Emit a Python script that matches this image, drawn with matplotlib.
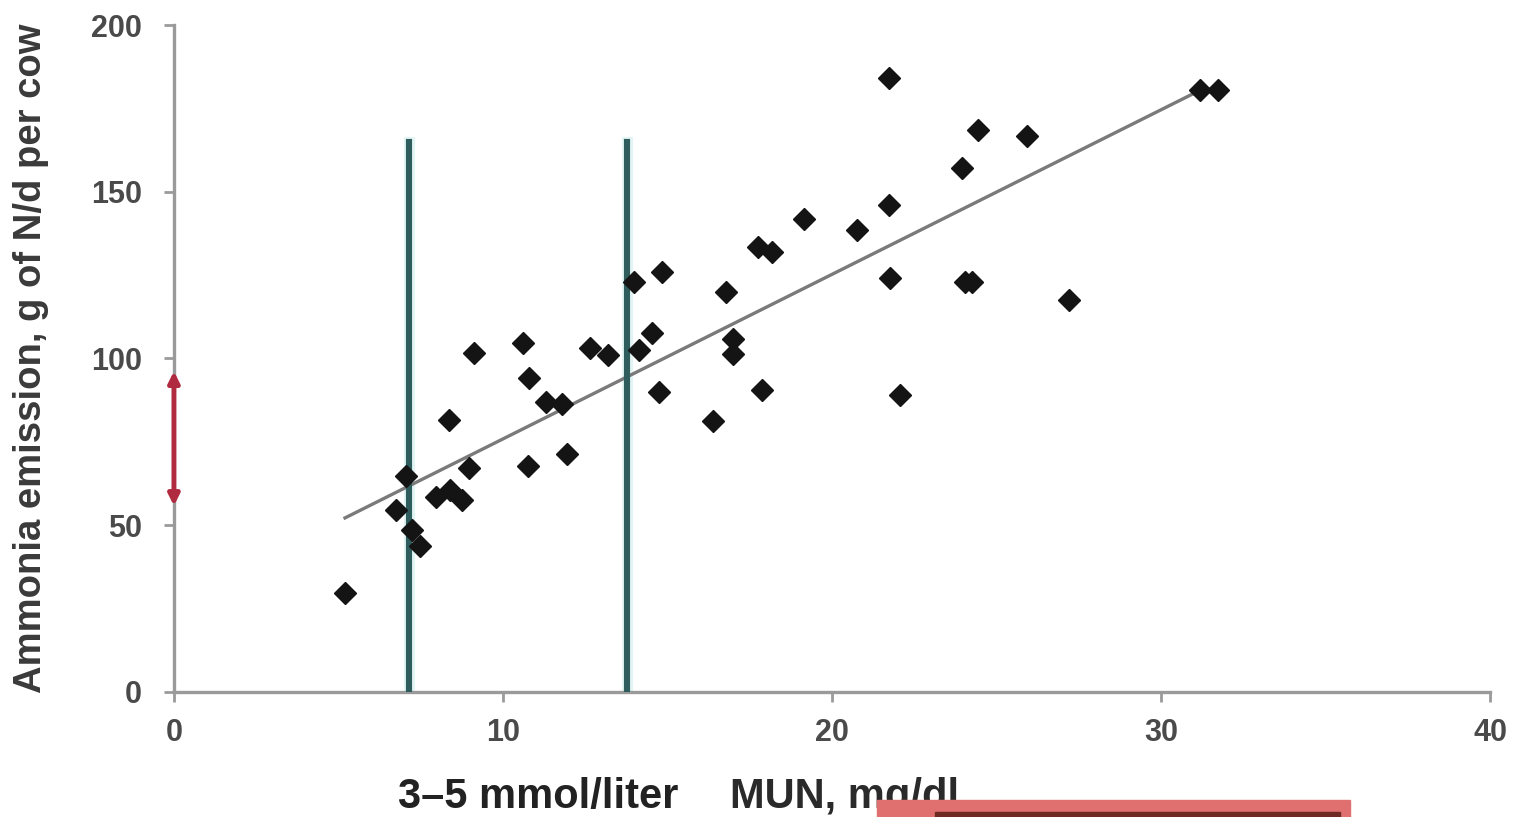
import matplotlib.pyplot as plt
from matplotlib.patches import FancyArrowPatch, Rectangle

# MUN (mg/dl) vs ammonia emission (g of N/d per cow)
mun = [5.2, 6.75, 7.05, 7.23, 7.48, 7.96, 8.39, 8.36, 8.75, 8.97, 9.12,
       10.61, 10.79, 10.76, 11.31, 11.79, 11.95, 12.64, 13.19, 13.98, 14.13,
       14.53, 14.83, 14.74, 16.38, 16.78, 16.99, 16.99, 17.87, 17.75, 18.18,
       19.15, 20.76, 21.73, 21.73, 21.76, 22.07, 23.95, 24.05, 24.25, 24.44,
       25.93, 27.2, 31.19, 31.73]
ammonia = [29.7, 54.6, 64.8, 48.6, 43.8, 58.5, 60.6, 81.6, 57.6, 67.2, 101.6,
           104.6, 94.2, 67.8, 87.0, 86.4, 71.4, 103.1, 101.0, 122.9, 102.5,
           107.6, 125.9, 90.0, 81.3, 119.9, 105.8, 101.3, 90.6, 133.4, 131.9,
           141.8, 138.5, 146.0, 184.1, 124.1, 89.1, 157.1, 122.9, 122.9, 168.5,
           166.7, 117.5, 180.5, 180.5]

fit_x = [5.2, 31.1]
fit_y = [52.2, 180.0]

mun_bounds = [7.14, 13.77]
bound_top = 165
emission_range = [55, 97]

x_ticks = [0, 10, 20, 30, 40]
y_ticks = [0, 50, 100, 150, 200]

fig = plt.figure(figsize=(15.27, 8.17), dpi=100)
ax = fig.add_axes([0.1139, 0.153, 0.8619, 0.8164])

ax.plot(fit_x, fit_y, color="#7a7a7a", linewidth=2.4, zorder=2)
for xb in mun_bounds:
    ax.plot([xb, xb], [0, bound_top], color="#e2f4f4", linewidth=8, zorder=1)
    ax.plot([xb, xb], [0, bound_top], color="#2f5c5c", linewidth=4.4, zorder=3)
ax.plot(mun, ammonia, linestyle="none", marker="D", markersize=11,
        color="#141414", zorder=4)

arrow = FancyArrowPatch((0, emission_range[0]), (0, emission_range[1]),
                        arrowstyle="<|-|>", mutation_scale=16,
                        color="#b02a40", linewidth=3.5, zorder=5, clip_on=False)
ax.add_patch(arrow)

ax.set_xlim(0, 40)
ax.set_ylim(0, 200)
ax.set_xticks(x_ticks)
ax.set_yticks(y_ticks)
for side in ("top", "right"):
    ax.spines[side].set_visible(False)
for side in ("left", "bottom"):
    ax.spines[side].set_color("#9a9a9a")
    ax.spines[side].set_linewidth(2.4)
ax.tick_params(axis="both", colors="#9a9a9a", width=2, length=7,
               labelsize=22, labelcolor="#4a4a4a")
ax.tick_params(axis="x", pad=12)
ax.tick_params(axis="y", pad=16)
for lab in ax.get_xticklabels() + ax.get_yticklabels():
    lab.set_fontweight("bold")
    lab.set_family(["Liberation Sans", "DejaVu Sans"])

label_font = ["Liberation Sans", "DejaVu Sans"]
ax.set_ylabel("Ammonia emission, g of N/d per cow", fontsize=27.5,
              fontweight="bold", color="#3a3a3a", family=label_font)
ax.yaxis.set_label_coords(-0.095, 0.5)
fig.text(0.2606, 0.011, "3\u20135 mmol/liter", fontsize=30, fontweight="bold",
         color="#222222", family=label_font, va="baseline")
fig.text(0.478, 0.011, "MUN, mg/dl", fontsize=30, fontweight="bold",
         color="#2a2a2a", family=label_font, va="baseline")

# reddish strip cutting into the bottom edge
fig.patches.append(Rectangle((877 / 1527, 0), 473 / 1527, 17 / 817,
                             transform=fig.transFigure, color="#e06f6f",
                             zorder=10))
fig.patches.append(Rectangle((935 / 1527, 0), 405 / 1527, 5 / 817,
                             transform=fig.transFigure, color="#6e2a22",
                             zorder=11))

fig.savefig("out.png", dpi=100)
